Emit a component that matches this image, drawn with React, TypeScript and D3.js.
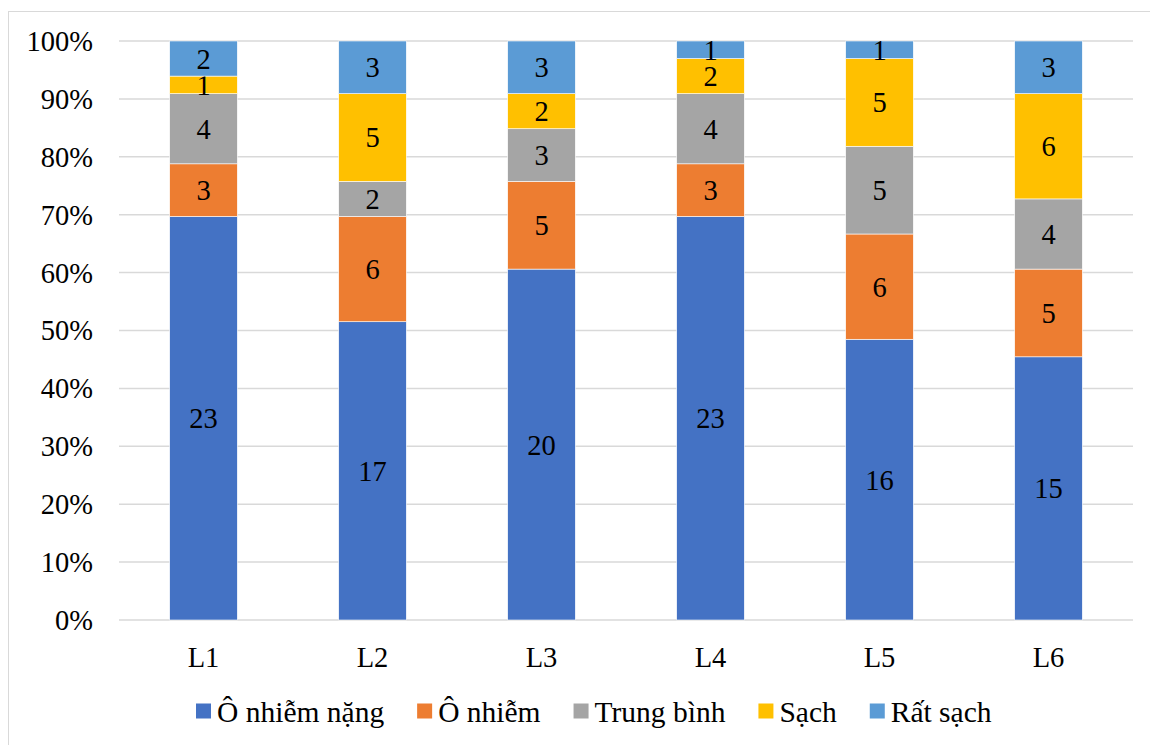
import React from "react";
import * as d3 from "d3";

const categories = ["L1", "L2", "L3", "L4", "L5", "L6"];
const seriesNames = ["Ô nhiễm nặng", "Ô nhiễm", "Trung bình", "Sạch", "Rất sạch"];
const oNhiemNang = [23, 17, 20, 23, 16, 15];
const oNhiem = [3, 6, 5, 3, 6, 5];
const trungBinh = [4, 2, 3, 4, 5, 4];
const sach = [1, 5, 2, 2, 5, 6];
const ratSach = [2, 3, 3, 1, 1, 3];
const yTicks = [0, 0.1, 0.2, 0.3, 0.4, 0.5, 0.6, 0.7, 0.8, 0.9, 1];
const colors = ["#4472C4", "#ED7D31", "#A5A5A5", "#FFC000", "#5B9BD5"];

const W = 1150;
const H = 745;
const FONT = "Liberation Serif, Times New Roman, serif";
const FS = 28.5;
const LEGEND_FS = 29.5;

function measure(text: string, size: number): number {
  const c = document.createElement("canvas").getContext("2d");
  if (!c) return text.length * size * 0.5;
  c.font = `${size}px "Liberation Serif", serif`;
  return c.measureText(text).width;
}

const txt: React.CSSProperties = { fontFamily: FONT, fontSize: FS, fill: "#000" };
const legendTxt: React.CSSProperties = { fontFamily: FONT, fontSize: LEGEND_FS, fill: "#000" };

export default function App() {
  const series = [oNhiemNang, oNhiem, trungBinh, sach, ratSach];
  const rows = categories.map((cat, i) => {
    const r: Record<string, number | string> = { cat };
    seriesNames.forEach((s, k) => (r[s] = series[k][i]));
    return r;
  });
  const stacked = d3
    .stack<Record<string, number | string>>()
    .keys(seriesNames)
    .value((d, key) => d[key] as number)
    .offset(d3.stackOffsetExpand)(rows);

  const left = 119;
  const right = 1133;
  const top = 41;
  const bottom = 620;
  const x = d3.scaleBand<string>().domain(categories).range([left, right]).padding(0);
  const barW = x.bandwidth() * 0.4;
  const y = d3.scaleLinear().domain([0, 1]).range([bottom, top]);

  // legend layout: square, small gap, label, then a fixed gap to the next item
  const sq = 15;
  const gapSq = 6;
  const gapItem = 33;
  const widths = seriesNames.map((s) => measure(s, LEGEND_FS));
  let lx = 196;
  const legendX = widths.map((w) => {
    const p = lx;
    lx += sq + gapSq + w + gapItem;
    return p;
  });
  const legendY = 712;

  return (
    <svg
      width={W}
      height={H}
      style={{ position: "absolute", left: 0, top: 0, background: "#fff", fontFamily: FONT }}
    >
      <rect x={8.5} y={11.5} width={W} height={H} fill="#fff" stroke="#D9D9D9" strokeWidth={1} />
      {yTicks.map((t) => (
        <g key={t}>
          <line x1={left} x2={right} y1={y(t)} y2={y(t)} stroke="#D9D9D9" strokeWidth={1.5} />
          <text x={93} y={y(t)} dy="0.35em" textAnchor="end" style={txt}>
            {d3.format(".0%")(t)}
          </text>
        </g>
      ))}
      {stacked.map((layer, k) => (
        <g key={layer.key}>
          {layer.map((d, i) => {
            const cx = (x(categories[i]) as number) + x.bandwidth() / 2;
            const y0 = y(d[0]);
            const y1 = y(d[1]);
            return (
              <g key={i}>
                <rect
                  x={cx - barW / 2}
                  y={y1}
                  width={barW}
                  height={y0 - y1}
                  fill={colors[k]}
                  stroke="#fff"
                  strokeWidth={0.6}
                />
                <text x={cx} y={(y0 + y1) / 2} dy="0.35em" textAnchor="middle" style={txt}>
                  {series[k][i]}
                </text>
              </g>
            );
          })}
        </g>
      ))}
      {categories.map((c) => (
        <text
          key={c}
          x={(x(c) as number) + x.bandwidth() / 2}
          y={657}
          dy="0.35em"
          textAnchor="middle"
          style={txt}
        >
          {c}
        </text>
      ))}
      {seriesNames.map((s, k) => (
        <g key={s}>
          <rect x={legendX[k]} y={legendY - sq / 2 - 1} width={sq} height={sq} fill={colors[k]} />
          <text x={legendX[k] + sq + gapSq} y={legendY} dy="0.35em" style={legendTxt}>
            {s}
          </text>
        </g>
      ))}
    </svg>
  );
}
